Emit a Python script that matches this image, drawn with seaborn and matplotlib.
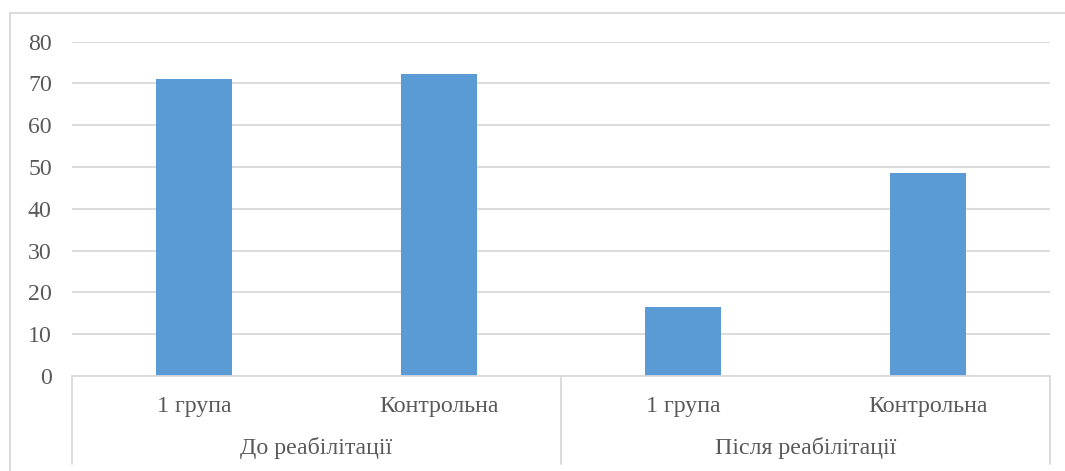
import matplotlib
matplotlib.use("Agg")
import matplotlib.pyplot as plt
from matplotlib.lines import Line2D
from matplotlib.patches import Rectangle
import pandas as pd
import seaborn as sns

# Data
periods = ["До реабілітації", "До реабілітації", "Після реабілітації", "Після реабілітації"]
groups = ["1 група", "Контрольна", "1 група", "Контрольна"]
values = [71.1, 72.3, 16.6, 48.6]
y_ticks = [0, 10, 20, 30, 40, 50, 60, 70, 80]

BAR = "#5B9BD5"
GRID = "#D9D9D9"
TEXT = "#595959"
FS = 17.2

sns.set_theme(style="white")
plt.rcParams["font.family"] = ["Liberation Serif", "DejaVu Serif"]

df = pd.DataFrame({"key": [f"{p}|{g}" for p, g in zip(periods, groups)],
                   "value": values})

fig = plt.figure(figsize=(10.65, 4.71), dpi=100)
ax = fig.add_axes([72 / 1065, 1 - 376 / 471, (1050 - 72) / 1065, (376 - 41.7) / 471])

sns.barplot(data=df, x="key", y="value", order=list(df["key"]), color=BAR,
            saturation=1, width=0.31, ax=ax, linewidth=0)

ax.set_ylim(0, 80)
ax.set_xlim(-0.5, len(values) - 0.5)
ax.set_yticks(y_ticks)
ax.set_yticklabels([str(t) for t in y_ticks], fontsize=FS, color=TEXT)
ax.yaxis.grid(True, color=GRID, linewidth=1.3)
ax.set_axisbelow(True)
ax.tick_params(axis="y", length=0, pad=14.5)

ax.set_xticks(range(len(groups)))
ax.set_xticklabels(groups, fontsize=FS, color=TEXT)
ax.tick_params(axis="x", length=0, pad=14.5)
ax.set_xlabel("")
ax.set_ylabel("")

for side in ["left", "right", "top"]:
    ax.spines[side].set_visible(False)
ax.spines["bottom"].set_color(GRID)
ax.spines["bottom"].set_linewidth(1.3)

# Period labels and separators under the category axis
sep_bottom = -(464 - 376) / (376 - 41.7)
unique_periods = list(dict.fromkeys(periods))
n = len(values)
start = 0
for p in unique_periods:
    count = periods.count(p)
    center = start + (count - 1) / 2
    ax.text((center + 0.5) / n, -(448 - 376) / (376 - 41.7), p, transform=ax.transAxes,
            ha="center", va="center", fontsize=FS, color=TEXT)
    start += count
for b in range(0, n + 1, 2):
    xf = b / n
    ax.add_line(Line2D([xf, xf], [0, sep_bottom], transform=ax.transAxes,
                       color=GRID, linewidth=1.3, clip_on=False))

# Chart area frame
fig.patches.append(Rectangle((10 / 1065, -0.05), 1.1, 1 - 12.5 / 471 + 0.05,
                             transform=fig.transFigure, fill=False,
                             edgecolor=GRID, linewidth=1.3))

fig.savefig("out.png", dpi=100)
